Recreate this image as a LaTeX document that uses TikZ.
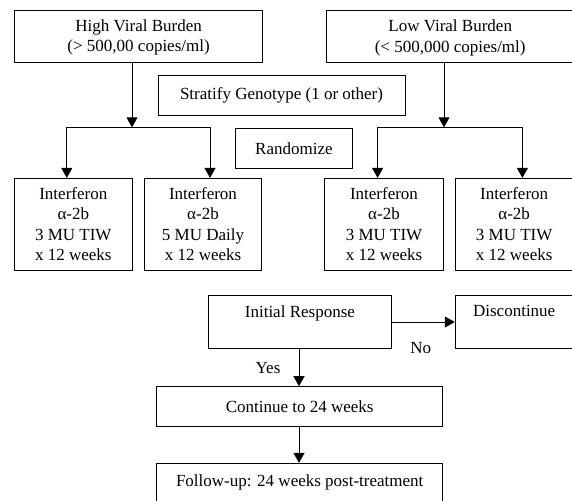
\documentclass[tikz,border=0pt]{standalone}
\usepackage{fontspec}
\setmainfont{Liberation Serif}
\usetikzlibrary{arrows.meta}
\newcommand{\fs}{\fontsize{17}{20.4}\selectfont}
\begin{document}
\begin{tikzpicture}[x=1pt,y=-1pt,
  box/.style={draw, line width=0.9pt, inner sep=0pt, align=center, font=\fs},
  arr/.style={line width=0.9pt, -{Triangle[length=10pt,width=11pt]}},
  ln/.style={line width=0.9pt},
  lbl/.style={font=\fs, inner sep=0pt}]
\useasboundingbox (0,0) rectangle (572,500);
% top boxes
\node[box, minimum width=248pt, minimum height=52pt] (high) at (138.6,36) {\rule{0pt}{15pt}High Viral Burden\\(> 500,00 copies/ml)};
\node[box, minimum width=247.5pt, minimum height=52pt] (low) at (450.2,36.5) {\rule{0pt}{15pt}Low Viral Burden\\(< 500,000 copies/ml)};
\node[box, minimum width=247pt, minimum height=40pt] (strat) at (281.5,95) {Stratify Genotype (1 or other)};
\node[box, minimum width=117.8pt, minimum height=40pt] (rand) at (293.9,148.3) {Randomize};
% treatment arms
\node[box, minimum width=117.4pt, minimum height=91.7pt] (i1) at (73.3,224.2) {Interferon\\α-2b\\3 MU TIW\\x 12 weeks};
\node[box, minimum width=117pt, minimum height=91.7pt] (i2) at (203,224.2) {Interferon\\α-2b\\5 MU Daily\\x 12 weeks};
\node[box, minimum width=118.6pt, minimum height=91.7pt] (i3) at (384,224.2) {Interferon\\α-2b\\3 MU TIW\\x 12 weeks};
\node[box, minimum width=118pt, minimum height=91.7pt] (i4) at (514.2,224.2) {Interferon\\α-2b\\3 MU TIW\\x 12 weeks};
% response
\node[box, minimum width=182.3pt, minimum height=52.6pt] (init) at (299.9,322) {Initial Response\\[-5pt] \strut};
\node[box, minimum width=118pt, minimum height=52.6pt] (disc) at (514.2,322) {Discontinue\\[-5pt] \strut};
\node[box, minimum width=285.6pt, minimum height=39.3pt] (cont) at (299.7,406.3) {Continue to 24 weeks};
\node[box, minimum width=285.6pt, minimum height=38pt] (follow) at (299.7,482.3) {Follow-up: 24 weeks post-treatment};
% junctions
\coordinate (hj) at (132,127.3);
\coordinate (hl) at (66.8,127.3);
\coordinate (hr) at (210,127.3);
\coordinate (lj) at (444,127.3);
\coordinate (ll) at (377.6,127.3);
\coordinate (lr) at (522.4,127.3);
\coordinate (yx) at (299,0);
% connectors
\draw[arr] (high.south -| hj) -- (hj);
\draw[ln] (hl) -- (hr);
\draw[arr] (hl) -- (hl |- i1.north);
\draw[arr] (hr) -- (hr |- i2.north);
\draw[arr] (low.south -| lj) -- (lj);
\draw[ln] (ll) -- (lr);
\draw[arr] (ll) -- (ll |- i3.north);
\draw[arr] (lr) -- (lr |- i4.north);
\draw[arr] (init.east) -- (disc.west);
\draw[arr] (init.south -| yx) -- (cont.north -| yx);
\draw[arr] (cont.south -| yx) -- (follow.north -| yx);
% labels
\node[lbl] (yes) at (268,368.3) {Yes};
\node[lbl] (no) at (420.7,348.3) {No};
\end{tikzpicture}
\end{document}
